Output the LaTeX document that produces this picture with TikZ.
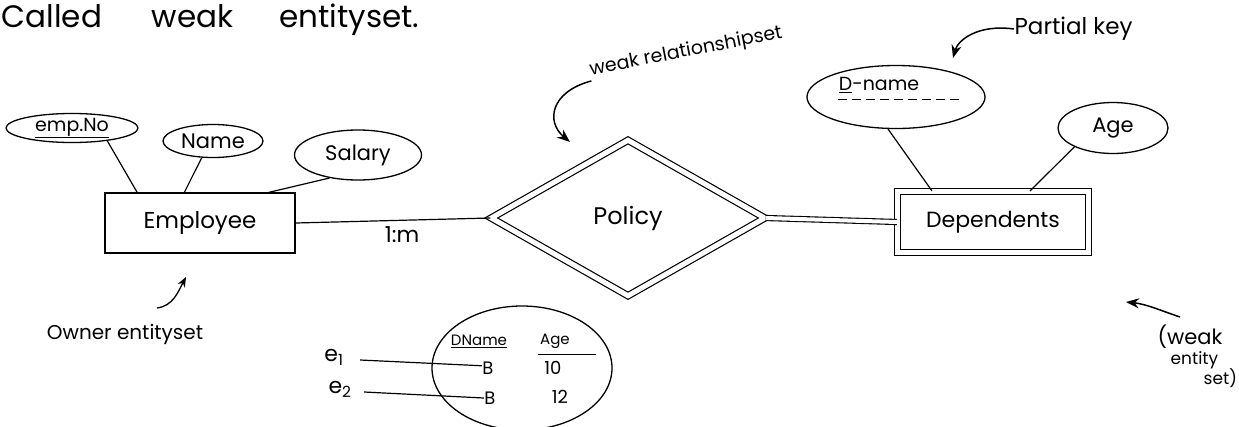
\documentclass[tikz,border=0pt]{standalone}
\usepackage{fontspec}
\setmainfont{Poppins}
\usetikzlibrary{shapes.geometric,arrows.meta}
\newcommand{\fs}[1]{\fontsize{#1}{#1}\selectfont}
\begin{document}
\begin{tikzpicture}[x=1pt,y=-1pt,line width=1.3pt,
  attr/.style={draw,ellipse,inner sep=0pt},
  entbox/.style={draw,rectangle,inner sep=0pt},
  weakbox/.style={draw,rectangle,inner sep=0pt,double,double distance=5pt,line width=1.2pt},
  relbox/.style={draw,diamond,inner sep=0pt,double,double distance=5pt,line width=1.2pt},
  conn/.style={line width=1.2pt},
  ptr/.style={-{Stealth[length=13pt,width=10pt]},line width=1.5pt},
  lbl/.style={inner sep=0pt}]
\useasboundingbox (0,0) rectangle (1239,426);

% heading
\node[lbl,anchor=base west,font=\fs{31}] (title) at (1,27) {Called\hspace{50pt}weak\hspace{46pt}entityset.};

% owner entity and attributes
\node[entbox,minimum width=190,minimum height=60,font=\fs{23}] (emp) at (200,223) {Employee};
\node[attr,minimum width=132,minimum height=29,font=\fs{19}] (empno) at (72,128) {\underline{emp.No}};
\node[attr,minimum width=100,minimum height=33,font=\fs{21}] (name) at (213,141) {Name};
\node[attr,minimum width=127,minimum height=50,font=\fs{21}] (salary) at (358,155) {Salary};

\draw[conn] (empno.-20) -- (emp.154);
\draw[conn] (name.236) -- (emp.117);
\draw[conn] (salary.219) -- (emp.24);

% weak relationship
\node[relbox,minimum width=274,minimum height=156,font=\fs{24}] (policy) at (628,218) {Policy};
\draw[conn] (emp.east) -- (policy.west);
\node[lbl,font=\fs{22}] (card) at (402,235) {1:m};

% weak entity
\node[weakbox,minimum width=191,minimum height=61,font=\fs{22}] (dep) at (993,222) {Dependents};
\draw[conn,double,double distance=4pt,line width=1.1pt] (policy.east) -- (dep.west);

\node[attr,minimum width=178,minimum height=63] (dname) at (896,97) {};
\node[lbl,font=\fs{19}] (dntext) at (879,85) {\underline{D}-name};
\draw[conn,dashed,dash pattern=on 9pt off 5pt] (dntext.south west) ++(0,6) -- ++(122,0);
\node[attr,minimum width=110,minimum height=51,font=\fs{21}] (age) at (1113,128) {Age};
\draw[conn] (dname.256) -- (dep.153);
\draw[conn] (age.206) -- (dep.40);

% annotations
\node[lbl,anchor=west,font=\fs{23}] (pk) at (1014,29) {Partial key};
\coordinate (pkarrow) at (953,58);
\draw[ptr] (pk.west) .. controls (978,24) and (958,40) .. (pkarrow);

\node[lbl,rotate=11,font=\fs{19}] (wrs) at (686,52) {weak relationshipset};
\coordinate (wrsarrow) at (570,142);
\draw[ptr] (wrs.south west) .. controls (550,92) and (546,122) .. (wrsarrow);

\node[lbl,font=\fs{20}] (owner) at (125,334) {Owner entityset};
\coordinate (ownarrow) at (186,277);
\draw[ptr,line width=1.3pt,-{Stealth[length=10pt,width=8pt]}] (157,308) .. controls (173,306) and (178,292) .. (ownarrow);

\node[lbl,anchor=west,font=\fs{21}] (wes1) at (1157,337) {(weak};
\node[lbl,anchor=west,font=\fs{17}] (wes2) at (1170,360) {entity};
\node[lbl,anchor=west,font=\fs{17}] (wes3) at (1203,378) {set)};
\coordinate (wesarrow) at (1126,302);
\draw[ptr] (1180,317) .. controls (1162,311) and (1146,304) .. (wesarrow);

% example instances
\node[draw,ellipse,minimum width=180,minimum height=124,line width=1.3pt] (tbl) at (522,368) {};
\node[lbl,font=\fs{15}] (hd1) at (479,341) {\underline{DName}};
\node[lbl,font=\fs{15}] (hd2) at (555,341) {Age};
\draw[conn] (hd2.south west) ++(-2,6) -- ++(58,0);
\node[lbl,font=\fs{18}] (b1) at (488,368) {B};
\node[lbl,font=\fs{18}] (v1) at (553,368) {10};
\node[lbl,font=\fs{18}] (b2) at (490,398) {B};
\node[lbl,font=\fs{18}] (v2) at (560,397) {12};
\node[lbl,font=\fs{22}] (e1) at (334,357) {e\textsubscript{1}};
\node[lbl,font=\fs{22}] (e2) at (340,389) {e\textsubscript{2}};
\draw[conn] (e1.east) ++(16,3) -- (b1.160);
\draw[conn] (e2.east) ++(12,3) -- (b2.west);
\end{tikzpicture}
\end{document}
